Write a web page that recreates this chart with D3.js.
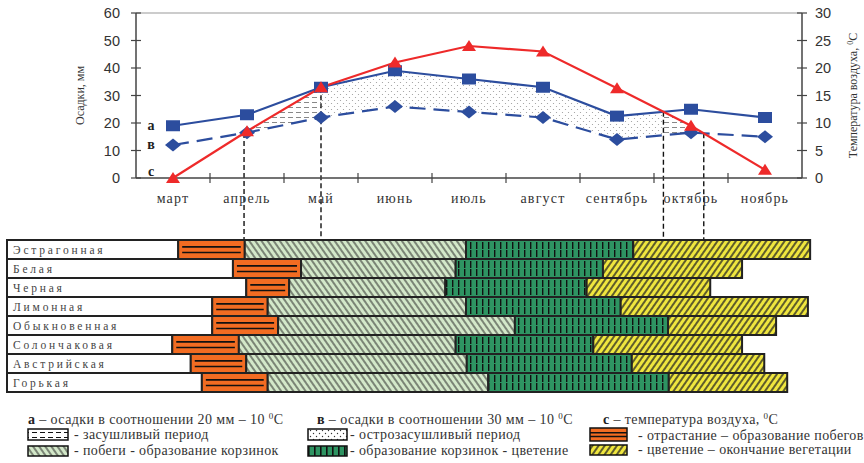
<!DOCTYPE html>
<html>
<head>
<meta charset="utf-8">
<script src="https://cdn.jsdelivr.net/npm/d3@7"></script>
<style>
body { margin: 0; background: #fff; }
</style>
</head>
<body>
<div id="vis-container"></div>
<script>
// climate data
var months = ["март", "апрель", "май", "июнь", "июль", "август", "сентябрь", "октябрь", "ноябрь"];
var precipA = [19, 23, 33, 39, 36, 33, 22.5, 25, 22];      // 20 мм – 10 °C
var precipB = [12, 16.5, 22, 26, 24, 22, 14, 16.5, 15];    // 30 мм – 10 °C
var temperature = [0, 8.5, 16.5, 21, 24, 23, 16.3, 9.5, 1.5];
var leftTicks = [0, 10, 20, 30, 40, 50, 60];
var rightTicks = [0, 5, 10, 15, 20, 25, 30];

// phenology, in month index (0 = middle of March)
var species = ["Эстрагонная", "Белая", "Черная", "Лимонная", "Обыкновенная", "Солончаковая", "Австрийская", "Горькая"];
var regrowthStart = [0.07, 0.81, 0.99, 0.53, 0.53, -0.01, 0.24, 0.39];
var shootsStart = [0.97, 1.73, 1.57, 1.28, 1.42, 0.89, 0.99, 1.28];
var budsStart = [3.96, 3.82, 3.68, 3.96, 4.62, 3.82, 3.97, 4.26];
var floweringStart = [6.22, 5.81, 5.59, 6.05, 6.69, 5.68, 6.20, 6.70];
var vegetationEnd = [8.61, 7.69, 7.26, 8.58, 8.15, 7.69, 7.99, 8.30];

var width = 864, height = 463;
var blue = "#2C4D9E", red = "#EE2A2A";
var orange = "#F26C22", lightGreen = "#D3E8C9", darkGreen = "#2E9462", yellow = "#EFE63E";

var svg = d3.select("#vis-container")
	.append("svg")
	.attr("width", width)
	.attr("height", height)
	.style("font-family", "'Liberation Serif', serif");

// scales
var x = d3.scaleBand().domain(months).range([136, 802]);
var xm = d3.scaleLinear()
	.domain([0, months.length - 1])
	.range([x(months[0]) + x.bandwidth() / 2, x(months[months.length - 1]) + x.bandwidth() / 2]);
var yL = d3.scaleLinear().domain([0, 60]).range([178, 13]);
var yR = d3.scaleLinear().domain([0, 30]).range([178, 13]);
var rowY = d3.scaleBand().domain(species).range([240, 392]);

// patterns
var defs = svg.append("defs");
function hatch(id, fill, angle, stroke, sw) {
	var p = defs.append("pattern").attr("id", id).attr("patternUnits", "userSpaceOnUse")
		.attr("width", 5).attr("height", 5).attr("patternTransform", "rotate(" + angle + ")");
	p.append("rect").attr("width", 5).attr("height", 5).attr("fill", fill);
	p.append("line").attr("x1", 1).attr("y1", 0).attr("x2", 1).attr("y2", 5)
		.attr("stroke", stroke).attr("stroke-width", sw);
}
hatch("shoots", lightGreen, -35, "#222", 1);
hatch("flower", yellow, 35, "#222", 1.4);

var bp = defs.append("pattern").attr("id", "buds").attr("patternUnits", "userSpaceOnUse")
	.attr("width", 6).attr("height", rowY.bandwidth()).attr("y", 240);
bp.append("rect").attr("width", 6).attr("height", rowY.bandwidth()).attr("fill", darkGreen);
bp.append("rect").attr("x", 2).attr("y", 2).attr("width", 1.4).attr("height", 7).attr("fill", "#111");
bp.append("rect").attr("x", 2).attr("y", 10).attr("width", 1.4).attr("height", 7).attr("fill", "#111");

var bl = defs.append("pattern").attr("id", "budsLegend").attr("patternUnits", "userSpaceOnUse")
	.attr("width", 6).attr("height", 20);
bl.append("rect").attr("width", 6).attr("height", 20).attr("fill", darkGreen);
bl.append("rect").attr("x", 2).attr("y", 0).attr("width", 1.6).attr("height", 20).attr("fill", "#111");

function dashes(id, col) {
	var p = defs.append("pattern").attr("id", id).attr("patternUnits", "userSpaceOnUse")
		.attr("width", 8).attr("height", 5);
	p.append("rect").attr("width", 8).attr("height", 5).attr("fill", "#fff");
	p.append("line").attr("x1", 0).attr("y1", 2.5).attr("x2", 5).attr("y2", 2.5)
		.attr("stroke", col).attr("stroke-width", 1);
}
dashes("dry", "#888");
dashes("dryLegend", "#111");

function dots(id, col, r) {
	var p = defs.append("pattern").attr("id", id).attr("patternUnits", "userSpaceOnUse")
		.attr("width", 6).attr("height", 6);
	p.append("rect").attr("width", 6).attr("height", 6).attr("fill", "#fff");
	p.append("circle").attr("cx", 1.5).attr("cy", 1.5).attr("r", r).attr("fill", col);
	p.append("circle").attr("cx", 4.5).attr("cy", 4.5).attr("r", r).attr("fill", col);
}
dots("veryDry", "#999", 0.6);
dots("veryDryLegend", "#333", 0.7);

// drought areas between a and в
var tempL = temperature.map(function(t) { return t * 2; }); // 20 мм – 10 °C
function lerp(arr, u) {
	var i = Math.min(Math.floor(u), arr.length - 2), f = u - i;
	return arr[i] + (arr[i + 1] - arr[i]) * f;
}
var us = [], crossings = [];
for (var i = 0; i < months.length - 1; ++i) {
	for (var k = 0; k < 40; ++k) us.push(i + k / 40);
	[precipA, precipB].forEach(function(p) {
		var d0 = tempL[i] - p[i], d1 = tempL[i + 1] - p[i + 1];
		if (d0 !== d1) {
			var t = d0 / (d0 - d1);
			if (t > 0 && t <= 1) {
				us.push(i + t);
				crossings.push({ u: i + t, v: lerp(p, i + t) });
			}
		}
	});
}
us.push(months.length - 1);
us.sort(d3.ascending);
var samples = us.map(function(u) {
	return { u: u, a: lerp(precipA, u), b: lerp(precipB, u), c: lerp(tempL, u) };
});
var eps = 1e-6;
var veryDryArea = d3.area()
	.defined(function(d) { return d.c >= d.a - eps; })
	.x(function(d) { return xm(d.u); })
	.y0(function(d) { return yL(d.b); })
	.y1(function(d) { return yL(d.a); });
var dryArea = d3.area()
	.defined(function(d) { return d.c >= d.b - eps && d.c <= d.a + eps; })
	.x(function(d) { return xm(d.u); })
	.y0(function(d) { return yL(d.b); })
	.y1(function(d) { return yL(d.c); });
svg.append("path").attr("d", veryDryArea(samples)).attr("fill", "url(#veryDry)");
svg.append("path").attr("d", dryArea(samples)).attr("fill", "url(#dry)");

// dashed guides down to the phenology bars
crossings.forEach(function(c) {
	svg.append("line")
		.attr("x1", xm(c.u)).attr("x2", xm(c.u))
		.attr("y1", yL(c.v)).attr("y2", rowY.range()[0])
		.attr("stroke", "#111").attr("stroke-width", 1.4)
		.attr("stroke-dasharray", "5,3");
});

// axes
var axisCol = "#444";
svg.append("line").attr("x1", 136).attr("x2", 802).attr("y1", yL(60)).attr("y2", yL(60))
	.attr("stroke", "#999").attr("stroke-width", 1);
svg.append("line").attr("x1", 136).attr("x2", 136).attr("y1", yL(60)).attr("y2", yL(0))
	.attr("stroke", axisCol).attr("stroke-width", 1.5);
svg.append("line").attr("x1", 802).attr("x2", 802).attr("y1", yR(30)).attr("y2", yR(0))
	.attr("stroke", axisCol).attr("stroke-width", 1.5);
svg.append("line").attr("x1", 136).attr("x2", 802).attr("y1", yL(0)).attr("y2", yL(0))
	.attr("stroke", axisCol).attr("stroke-width", 1.5);

leftTicks.forEach(function(t) {
	svg.append("line").attr("x1", 131).attr("x2", 141).attr("y1", yL(t)).attr("y2", yL(t))
		.attr("stroke", axisCol).attr("stroke-width", 1.2);
	svg.append("text").attr("x", 120).attr("y", yL(t) + 5).attr("text-anchor", "end")
		.style("font-family", "'Liberation Sans', Arial, sans-serif").style("font-size", "14.5px")
		.attr("fill", "#333").text(t);
});
rightTicks.forEach(function(t) {
	svg.append("line").attr("x1", 797).attr("x2", 807).attr("y1", yR(t)).attr("y2", yR(t))
		.attr("stroke", axisCol).attr("stroke-width", 1.2);
	svg.append("text").attr("x", 815).attr("y", yR(t) + 5).attr("text-anchor", "start")
		.style("font-family", "'Liberation Sans', Arial, sans-serif").style("font-size", "14.5px")
		.attr("fill", "#333").text(t);
});
months.forEach(function(m, i) {
	if (i > 0) {
		svg.append("line").attr("x1", x(m)).attr("x2", x(m)).attr("y1", yL(0) - 5).attr("y2", yL(0) + 5)
			.attr("stroke", axisCol).attr("stroke-width", 1.2);
	}
	svg.append("text").attr("x", xm(i)).attr("y", 203).attr("text-anchor", "middle")
		.style("font-size", "14px").style("letter-spacing", "1.2px").attr("fill", "#333").text(m);
});

svg.append("text")
	.attr("transform", "translate(84," + ((yL(60) + yL(0)) / 2) + ") rotate(-90)")
	.attr("text-anchor", "middle").style("font-size", "12px").attr("fill", "#333")
	.text("Осадки, мм");
var rt = svg.append("text")
	.attr("transform", "translate(857," + ((yR(30) + yR(0)) / 2) + ") rotate(-90)")
	.attr("text-anchor", "middle").style("font-size", "12px").attr("fill", "#333");
rt.append("tspan").text("Температура воздуха, ");
rt.append("tspan").attr("baseline-shift", "super").style("font-size", "8px").text("0");
rt.append("tspan").text("C");

// lines
var lineL = d3.line().x(function(d, i) { return xm(i); }).y(function(d) { return yL(d); });
var lineR = d3.line().x(function(d, i) { return xm(i); }).y(function(d) { return yR(d); });
svg.append("path").attr("d", lineL(precipB)).attr("fill", "none")
	.attr("stroke", blue).attr("stroke-width", 2.2).attr("stroke-dasharray", "16,8");
svg.append("path").attr("d", lineL(precipA)).attr("fill", "none")
	.attr("stroke", blue).attr("stroke-width", 2.2);
svg.append("path").attr("d", lineR(temperature)).attr("fill", "none")
	.attr("stroke", red).attr("stroke-width", 2.2);

// markers
precipB.forEach(function(d, i) {
	var cx = xm(i), cy = yL(d);
	svg.append("path").attr("d", "M" + (cx - 8) + "," + cy + "L" + cx + "," + (cy - 6.5) + "L" + (cx + 8) + "," + cy + "L" + cx + "," + (cy + 6.5) + "Z")
		.attr("fill", blue);
});
precipA.forEach(function(d, i) {
	svg.append("rect").attr("x", xm(i) - 7).attr("y", yL(d) - 5.5).attr("width", 14).attr("height", 11)
		.attr("fill", blue);
});
temperature.forEach(function(d, i) {
	var cx = xm(i), cy = yR(d);
	svg.append("path").attr("d", "M" + (cx - 7) + "," + (cy + 5) + "L" + cx + "," + (cy - 6) + "L" + (cx + 7) + "," + (cy + 5) + "Z")
		.attr("fill", red);
});

// series letters
[["а", yL(precipA[0]) + 4], ["в", yL(precipB[0]) + 4], ["с", yR(temperature[0]) - 2]].forEach(function(l) {
	svg.append("text").attr("x", 151).attr("y", l[1]).attr("text-anchor", "middle")
		.style("font-size", "14px").style("font-weight", "bold").attr("fill", "#222").text(l[0]);
});

// phenology bars
var edge = "#222";
species.forEach(function(s, i) {
	var y0 = rowY(s), h = rowY.bandwidth();
	svg.append("rect").attr("x", 7).attr("y", y0).attr("width", xm(regrowthStart[i]) - 7).attr("height", h)
		.attr("fill", "#fff").attr("stroke", edge).attr("stroke-width", 2);
	svg.append("text").attr("x", 13).attr("y", y0 + h / 2 + 4)
		.style("font-size", "11.5px").style("letter-spacing", "2.8px").attr("fill", "#444").text(s);

	var phases = [
		[regrowthStart[i], shootsStart[i], orange],
		[shootsStart[i], budsStart[i], "url(#shoots)"],
		[budsStart[i], floweringStart[i], "url(#buds)"],
		[floweringStart[i], vegetationEnd[i], "url(#flower)"]
	];
	phases.forEach(function(p) {
		svg.append("rect").attr("x", xm(p[0])).attr("y", y0).attr("width", xm(p[1]) - xm(p[0])).attr("height", h)
			.attr("fill", p[2]).attr("stroke", edge).attr("stroke-width", 2);
	});
	[h * 0.36, h * 0.66].forEach(function(dy) {
		svg.append("line").attr("x1", xm(regrowthStart[i]) + 4).attr("x2", xm(shootsStart[i]) - 4)
			.attr("y1", y0 + dy).attr("y2", y0 + dy).attr("stroke", "#111").attr("stroke-width", 1.6);
	});
});

// legend
var legendFont = "14px", legendSpacing = "0.4px";
function supText(xp, yp, letter, body) {
	var t = svg.append("text").attr("x", xp).attr("y", yp)
		.style("font-size", legendFont).style("letter-spacing", legendSpacing).attr("fill", "#333");
	t.append("tspan").style("font-weight", "bold").attr("fill", "#222").text(letter);
	t.append("tspan").text(body);
	t.append("tspan").attr("baseline-shift", "super").style("font-size", "9px").text("0");
	t.append("tspan").text("C");
}
supText(28, 424, "а", " – осадки в соотношении 20 мм – 10 ");
supText(317, 424, "в", " – осадки в соотношении 30 мм – 10 ");
supText(603, 424, "с", " – температура воздуха, ");

var legendItems = [
	{ x: 28, w: 40, y: 429, h: 11, fill: "url(#dryLegend)", tx: 74, label: "- засушливый период" },
	{ x: 28, w: 40, y: 446, h: 10, fill: "url(#shoots)", tx: 74, label: "- побеги - образование корзинок" },
	{ x: 308, w: 39, y: 429, h: 11, fill: "url(#veryDryLegend)", tx: 350, label: "- острозасушливый период" },
	{ x: 308, w: 39, y: 446, h: 10, fill: "url(#budsLegend)", tx: 350, label: "- образование корзинок - цветение" },
	{ x: 590, w: 37, y: 428, h: 13, fill: orange, tx: 638, label: "- отрастание – образование побегов" },
	{ x: 590, w: 37, y: 445, h: 10, fill: "url(#flower)", tx: 638, label: "- цветение – окончание вегетации" }
];
legendItems.forEach(function(d) {
	svg.append("rect").attr("x", d.x).attr("y", d.y).attr("width", d.w).attr("height", d.h)
		.attr("fill", d.fill).attr("stroke", "#111").attr("stroke-width", 1.5);
	svg.append("text").attr("x", d.tx).attr("y", d.y + d.h - 1)
		.style("font-size", legendFont).style("letter-spacing", legendSpacing).attr("fill", "#333").text(d.label);
});
[428 + 13 * 0.36, 428 + 13 * 0.66].forEach(function(ly) {
	svg.append("line").attr("x1", 590).attr("x2", 627).attr("y1", ly).attr("y2", ly)
		.attr("stroke", "#111").attr("stroke-width", 1.5);
});
</script>
</body>
</html>
